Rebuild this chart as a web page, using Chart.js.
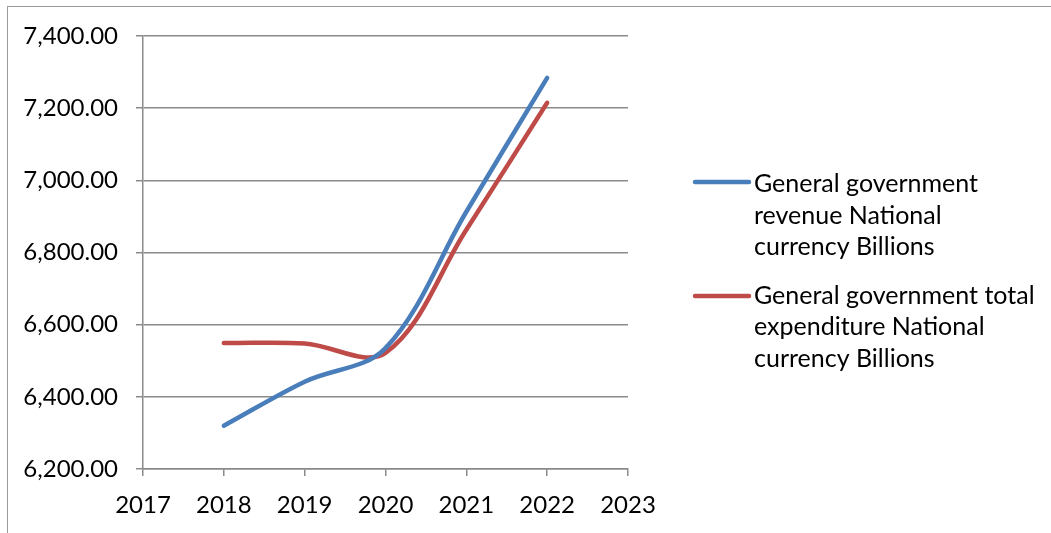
<!DOCTYPE html>
<html>
<head>
<meta charset="utf-8">
<title>General government revenue and expenditure</title>
<script src="https://cdn.jsdelivr.net/npm/chart.js@4.4.1/dist/chart.umd.min.js"></script>
<style>
    html, body { margin: 0; padding: 0; background: #fff; overflow: hidden; }
    canvas { display: block; }
</style>
</head>
<body>
<canvas id="myChart" width="1051" height="533"></canvas>
<script>
//--- Data
var years = [2018, 2019, 2020, 2021, 2022];
var revenue = [6320, 6442, 6535, 6913, 7284];
var expenditure = [6549, 6548, 6522, 6863, 7215];
var xTickValues = [2017, 2018, 2019, 2020, 2021, 2022, 2023];
var yTickValues = [6200, 6400, 6600, 6800, 7000, 7200, 7400];
var revenueLabel = ['General government', 'revenue National', 'currency Billions'];
var expenditureLabel = ['General government total', 'expenditure National', 'currency Billions'];

var blue = '#4A7EBB';
var red = '#BE4B48';
var gridColor = '#8a8a8a';
var fontFamily = 'Lato, "Liberation Sans", sans-serif';

function toPoints(values) {
    var pts = [];
    years.forEach(function (yr, i) { pts.push({ x: yr, y: values[i] }); });
    return pts;
}

// outer frame + the legend on the right (multi-line labels)
var frameAndLegend = {
    id: 'frameAndLegend',
    beforeDraw: function (chart) {
        var ctx = chart.ctx;
        ctx.save();
        ctx.strokeStyle = '#9a9a9a';
        ctx.lineWidth = 1;
        ctx.strokeRect(7.5, 6.5, 1200, 700);
        ctx.restore();
    },
    afterDraw: function (chart) {
        var ctx = chart.ctx;
        var left = chart.chartArea.right + 67;
        var items = [
            { color: blue, lines: revenueLabel, lineY: 182, top: 192 },
            { color: red, lines: expenditureLabel, lineY: 296, top: 303.5 }
        ];
        ctx.save();
        items.forEach(function (item) {
            ctx.strokeStyle = item.color;
            ctx.lineWidth = 4.5;
            ctx.lineCap = 'round';
            ctx.beginPath();
            ctx.moveTo(left, item.lineY);
            ctx.lineTo(left + 54, item.lineY);
            ctx.stroke();
            ctx.fillStyle = '#000';
            ctx.font = '25px ' + fontFamily;
            ctx.textBaseline = 'alphabetic';
            ctx.textAlign = 'left';
            item.lines.forEach(function (txt, k) {
                ctx.fillText(txt, left + 59, item.top + k * 31.7);
            });
        });
        ctx.restore();
    }
};

var ctx = document.getElementById('myChart');
var chart1 = new Chart(ctx, {
    type: 'line',
    data: {
        datasets: [{
            label: revenueLabel.join(' '),
            data: toPoints(revenue),
            borderColor: blue,
            backgroundColor: blue,
            borderWidth: 4.5,
            borderCapStyle: 'round',
            pointRadius: 0,
            tension: 0.35
        }, {
            label: expenditureLabel.join(' '),
            data: toPoints(expenditure),
            borderColor: red,
            backgroundColor: red,
            borderWidth: 4.5,
            borderCapStyle: 'round',
            pointRadius: 0,
            tension: 0.35
        }]
    },
    options: {
        responsive: false,
        animation: false,
        devicePixelRatio: 1,
        layout: { padding: { left: 0, top: 36, right: 423, bottom: 0 } },
        plugins: {
            legend: { display: false },
            tooltip: { enabled: false }
        },
        scales: {
            x: {
                type: 'linear',
                min: 2017,
                max: 2023,
                afterBuildTicks: function (scale) {
                    scale.ticks = xTickValues.map(function (v) { return { value: v }; });
                },
                afterFit: function (scale) { scale.height = 64; },
                grid: {
                    drawOnChartArea: false,
                    drawTicks: true,
                    tickLength: 7,
                    color: gridColor,
                    lineWidth: 1.5
                },
                border: { display: true, color: gridColor, width: 1.5 },
                ticks: {
                    padding: 15,
                    color: '#000',
                    font: { family: fontFamily, size: 24 },
                    callback: function (v) { return String(v); }
                }
            },
            y: {
                min: 6200,
                max: 7400,
                afterBuildTicks: function (scale) {
                    scale.ticks = yTickValues.map(function (v) { return { value: v }; });
                },
                afterFit: function (scale) { scale.width = 143; },
                grid: {
                    drawOnChartArea: true,
                    drawTicks: true,
                    tickLength: 7,
                    color: gridColor,
                    lineWidth: 1.5
                },
                border: { display: true, color: gridColor, width: 1.5 },
                ticks: {
                    padding: 18,
                    color: '#000',
                    font: { family: fontFamily, size: 24 },
                    callback: function (v) {
                        return v.toLocaleString('en-US', { minimumFractionDigits: 2, maximumFractionDigits: 2 });
                    }
                }
            }
        }
    },
    plugins: [frameAndLegend]
});
console.log('chart ready');
</script>
</body>
</html>
